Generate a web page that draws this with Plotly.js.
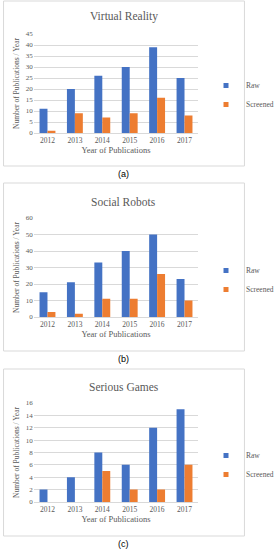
<!DOCTYPE html>
<html>
<head>
<meta charset="utf-8">
<script src="https://cdn.plot.ly/plotly-3.0.1.min.js"></script>
<style>
html,body{margin:0;padding:0;background:#fff;}
#chart{width:279px;height:550px;}
</style>
</head>
<body>
<div id="chart"></div>
<script>
const years = ['2012','2013','2014','2015','2016','2017'];
const seriesNames = ['Raw','Screened'];
const chartTitles = ['Virtual Reality','Social Robots','Serious Games'];
const captions = ['(a)','(b)','(c)'];

const vrRaw = [11, 20, 26, 30, 39, 25];
const vrScreened = [1, 9, 7, 9, 16, 8];
const srRaw = [15, 21, 33, 40, 50, 23];
const srScreened = [3, 2, 11, 11, 26, 10];
const sgRaw = [2, 4, 8, 6, 12, 15];
const sgScreened = [0, 0, 5, 2, 2, 6];

const yMax = [45, 60, 16];
const yStep = [5, 10, 2];

const rawColor = '#4472C4';
const scrColor = '#ED7D31';
const serif = '"Liberation Serif", "DejaVu Serif", serif';
const sans = '"Liberation Sans", "DejaVu Sans", sans-serif';
const gridColor = '#d9d9d9';
const textColor = '#595959';

const W = 279, H = 550;
const py = p => 1 - p / H;
const px = p => p / W;

const data = [];
const groups = [[vrRaw, vrScreened], [srRaw, srScreened], [sgRaw, sgScreened]];
const plotTop = [34, 218, 403];
const plotBot = [133, 317, 502];
const boxTop = [1, 183, 369];
const boxBot = [166, 351, 536];
const titleY = [17, 202, 387];
const legendY = [95, 280, 465];
const captionY = [174, 359, 544];

const layout = {
  width: W, height: H,
  margin: {l: 0, r: 0, t: 0, b: 0},
  paper_bgcolor: '#fff', plot_bgcolor: '#fff',
  barmode: 'group', bargap: 0.42, bargroupgap: 0,
  font: {family: serif, color: textColor, size: 7},
  shapes: [], annotations: []
};

groups.forEach((g, i) => {
  const n = i + 1;
  const xa = n === 1 ? 'x' : 'x' + n;
  const ya = n === 1 ? 'y' : 'y' + n;
  const lg = n === 1 ? 'legend' : 'legend' + n;
  g.forEach((vals, k) => {
    const col = k === 0 ? rawColor : scrColor;
    data.push({
      type: 'bar', x: years, y: vals, name: seriesNames[k],
      xaxis: xa, yaxis: ya, showlegend: false,
      marker: {color: col}
    });
    // small square legend swatch for the series
    data.push({
      type: 'scatter', mode: 'markers', x: [null], y: [null], name: seriesNames[k],
      xaxis: xa, yaxis: ya, legend: lg, showlegend: true,
      marker: {color: col, symbol: 'square', size: 5}
    });
  });
  const xk = n === 1 ? 'xaxis' : 'xaxis' + n;
  const yk = n === 1 ? 'yaxis' : 'yaxis' + n;
  layout[xk] = {
    domain: [px(38), px(223)], anchor: ya, type: 'category',
    categoryorder: 'array', categoryarray: years, range: [-0.5, 5.5],
    showgrid: false, showline: true, linecolor: gridColor, linewidth: 1,
    ticks: '', tickfont: {family: serif, size: 7.5, color: textColor},
    title: {text: 'Year of Publications', font: {family: serif, size: 8.5, color: textColor}, standoff: 3},
    fixedrange: true
  };
  layout[yk] = {
    domain: [py(plotBot[i]), py(plotTop[i])], anchor: xa,
    range: [0, yMax[i]], dtick: yStep[i], tick0: 0,
    showgrid: true, gridcolor: gridColor, gridwidth: 1, zeroline: false,
    showline: false, ticks: '',
    tickfont: {family: serif, size: 7, color: textColor},
    title: {text: 'Number of Publications / Year', font: {family: serif, size: 7.5, color: textColor}, standoff: 5},
    fixedrange: true
  };
  layout[lg] = {
    x: px(232), y: py(legendY[i]), xanchor: 'left', yanchor: 'middle',
    font: {family: serif, size: 7.5, color: textColor},
    bgcolor: 'rgba(0,0,0,0)', itemwidth: 30, tracegroupgap: 0
  };
  layout.shapes.push({
    type: 'rect', xref: 'paper', yref: 'paper',
    x0: px(4), x1: px(275), y0: py(boxBot[i]), y1: py(boxTop[i]),
    line: {color: gridColor, width: 1}, fillcolor: 'rgba(0,0,0,0)'
  });
  layout.annotations.push({
    text: chartTitles[i], xref: 'paper', yref: 'paper',
    x: px(139), y: py(titleY[i]), xanchor: 'center', yanchor: 'middle',
    showarrow: false, font: {family: serif, size: 11.5, color: textColor}
  });
  layout.annotations.push({
    text: captions[i], xref: 'paper', yref: 'paper',
    x: px(139), y: py(captionY[i]), xanchor: 'center', yanchor: 'middle',
    showarrow: false, font: {family: sans, size: 9, color: '#000'}
  });
});

Plotly.newPlot('chart', data, layout, {staticPlot: true, displayModeBar: false});
</script>
</body>
</html>
